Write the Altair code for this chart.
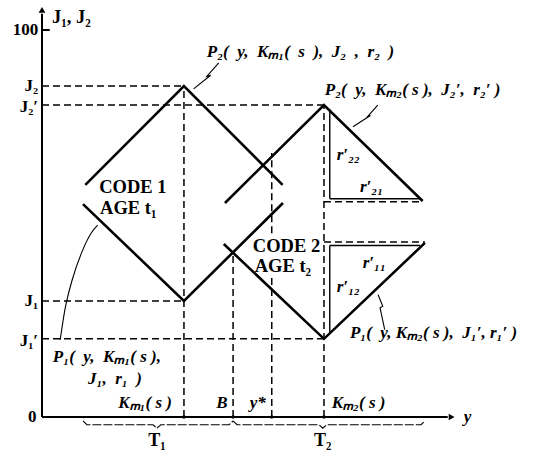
import altair as alt
import pandas as pd

# Levels on the vertical (J) axis
J2, J2P, J1, J1P = 85.5, 80.6, 30.0, 20.2
# Marked positions along the y axis
KM1, B, YSTAR, KM2 = 36.7, 49.4, 59.4, 72.9
X_END, Y_END = 105.9, 105.2

# Heavy zig-zag paths: (x list, y list)
paths_thick = {
    "p2_code1": ([11.2, KM1, 62.2], [60.0, J2, 60.0]),
    "p1_code1": ([10.6, KM1, 62.3], [55.0, J1, 55.3]),
    "p2_code2": ([47.3, KM2, 98.4], [55.3, J2P, 55.8]),
    "p1_code2": ([47.0, KM2, 99.0], [44.7, J1P, 45.0]),
}

# Thin solid sides of the two right triangles (r'21, r'22, r'11, r'12)
paths_thin = {
    "r21": ([74.4, 97.6], [56.4, 56.4]),
    "r22": ([74.4, 74.4], [56.4, 79.6]),
    "r11": ([74.4, 97.8], [44.3, 44.3]),
    "r12": ([74.4, 74.4], [44.3, 21.6]),
}

# Dashed guide lines (the y* line breaks around the CODE 2 label)
paths_dash = {
    "h_j2": ([0, KM1], [J2, J2]),
    "h_j2p": ([0, KM2], [J2P, J2P]),
    "h_j1": ([0, KM1], [J1, J1]),
    "h_j1p": ([0, KM2], [J1P, J1P]),
    "v_km1": ([KM1, KM1], [0, J2]),
    "v_b": ([B, B], [0, 42.4]),
    "v_ystar_lo": ([YSTAR, YSTAR], [0, 36.2]),
    "v_ystar_hi": ([YSTAR, YSTAR], [47.5, 68.2]),
    "v_km2": ([KM2, KM2], [0, J2P]),
    "h_tri_top": ([KM2, 98.4], [55.6, 55.6]),
    "h_tri_bot": ([KM2, 99.0], [45.2, 45.2]),
}

# Leader lines pointing from the labels to the curves
leaders_straight = {
    "lead_p2a": ([45.7, 42.6, 43.6, 39.2], [91.5, 88.0, 88.3, 84.8]),
    "lead_p2b": ([86.8, 84.0, 84.9, 80.4], [80.6, 77.4, 77.9, 75.0]),
    "lead_p1b": ([88.6, 87.4, 88.1, 86.9], [22.6, 28.2, 28.6, 31.6]),
}
leader_curve_x = [4.7, 5.9, 7.8, 10.3, 12.9, 14.4]
leader_curve_y = [19.9, 27.6, 35.4, 42.6, 47.8, 49.6]

# Axes
axes_paths = {
    "x_axis": ([0, X_END - 1.0], [0, 0]),
    "y_axis": ([0, 0], [0, Y_END - 1.0]),
    "tick100": ([0, 2.0], [100, 100]),
}

# Braces under the y axis: (start, tip, end)
braces = {"T1": (10.6, 29.7, B), "T2": (B, 72.6, 99.0)}


def to_frame(paths):
    rows = []
    for name, (xs_, ys_) in paths.items():
        for i, (x, y) in enumerate(zip(xs_, ys_)):
            rows.append({"seg": name, "i": i, "x": x, "y": y})
    return pd.DataFrame(rows)


def brace_frame():
    rows = []
    for name, (a, t, b) in braces.items():
        bx = [a, a + 1.0, t - 1.0, t, t + 1.0, b - 1.0, b]
        by = [-1.0, -2.0, -2.0, -2.9, -2.0, -2.0, -1.0]
        for i, (x, y) in enumerate(zip(bx, by)):
            rows.append({"seg": name, "i": i, "x": x, "y": y})
    return pd.DataFrame(rows)


xs = alt.Scale(domain=[0, 106], nice=False, zero=False)
ys = alt.Scale(domain=[0, 100], nice=False, zero=False)


def enc(chart, order=True):
    e = dict(
        x=alt.X("x:Q", scale=xs, axis=None),
        y=alt.Y("y:Q", scale=ys, axis=None),
    )
    if order:
        e["detail"] = "seg:N"
        e["order"] = "i:Q"
    return chart.encode(**e)


thick = enc(alt.Chart(to_frame(paths_thick)).mark_line(color="black", strokeWidth=2.6))
thin = enc(alt.Chart(to_frame(paths_thin)).mark_line(color="black", strokeWidth=1.4))
dash = enc(alt.Chart(to_frame(paths_dash)).mark_line(color="black", strokeWidth=1.5, strokeDash=[7, 4]))
lead = enc(alt.Chart(to_frame(leaders_straight)).mark_line(color="black", strokeWidth=1.1))
curve = enc(
    alt.Chart(to_frame({"lead_p1a": (leader_curve_x, leader_curve_y)})).mark_line(
        color="black", strokeWidth=1.1, interpolate="monotone"
    )
)
axes = enc(alt.Chart(to_frame(axes_paths)).mark_line(color="black", strokeWidth=2.0))
brace = enc(alt.Chart(brace_frame()).mark_line(color="black", strokeWidth=1.1, strokeDash=[9, 2]))

arrow_right = enc(
    alt.Chart(pd.DataFrame({"x": [X_END], "y": [0]})).mark_point(
        shape="triangle-right", filled=True, color="black", size=45, opacity=1
    ),
    order=False,
)
arrow_up = enc(
    alt.Chart(pd.DataFrame({"x": [0], "y": [Y_END]})).mark_point(
        shape="triangle-up", filled=True, color="black", size=45, opacity=1
    ),
    order=False,
)

dots = enc(
    alt.Chart(pd.DataFrame({"x": [KM1, B, YSTAR, KM2], "y": [0, 0, 0, 0]})).mark_point(
        filled=True, color="black", size=12, opacity=1
    ),
    order=False,
)

FONT = "Liberation Serif"
EN = "\u2002"  # en space, keeps the wide spacing of the formulas


def text_layer(df, align, italic, size=17):
    props = dict(font=FONT, fontSize=size, fontWeight="bold", align=align, baseline="middle")
    if italic:
        props["fontStyle"] = "italic"
    return enc(alt.Chart(df).mark_text(**props), order=False).encode(text="text:N")


# Axis value labels, right-aligned against the vertical axis
axis_labels = pd.DataFrame(
    {
        "x": [-1.0, -1.0, -1.0, -1.0, -1.0, -1.4],
        "y": [100, J2, J2P - 0.6, J1, J1P - 0.6, 0],
        "text": ["100", "J₂", "J₂′", "J₁", "J₁′", "0"],
    }
)

upright_left = pd.DataFrame(
    {
        "x": [2.6, 14.8, 54.5, 15.0, 55.0],
        "y": [103.4, 59.4, 44.3, 54.0, 39.0],
        "text": ["J₁, J₂", "CODE 1", "CODE 2", "AGE  t₁", "AGE t₂"],
    }
)
upright_center = pd.DataFrame(
    {"x": [29.7, 72.6], "y": [-6.3, -6.3], "text": ["T₁", "T₂"]}
)

italic_left = pd.DataFrame(
    {
        "x": [42.6, 73.1, 79.6, 2.8, 11.9, 74.9, 76.2, 82.2, 82.9, 76.2],
        "y": [94.3, 84.5, 21.7, 15.5, 9.8, 3.6, 67.7, 59.4, 39.8, 33.6],
        "text": [
            f"P₂({EN}y,{EN}Kₘ₁({EN}s{EN}),{EN}J₂{EN},{EN}r₂{EN})",
            f"P₂({EN}y,{EN}Kₘ₂( s ),{EN}J₂′,{EN}r₂′ )",
            f"P₁({EN}y, Kₘ₂( s ),{EN}J₁′, r₁′ )",
            f"P₁({EN}y,{EN}Kₘ₁( s ),",
            f"J₁,{EN}r₁{EN})",
            "Kₘ₂( s )",
            "r′₂₂",
            "r′₂₁",
            "r′₁₁",
            "r′₁₂",
        ],
    }
)
italic_right = pd.DataFrame({"x": [33.6], "y": [3.6], "text": ["Kₘ₁( s )"]})
italic_center = pd.DataFrame(
    {"x": [46.5, 55.8, 110.0], "y": [3.6, 3.6, 0.0], "text": ["B", "y*", "y"]}
)

chart = (
    alt.layer(
        dash, thin, thick, lead, curve, axes, brace, arrow_right, arrow_up, dots,
        text_layer(axis_labels, "right", False),
        text_layer(upright_left, "left", False, 18.5),
        text_layer(upright_center, "center", False, 18),
        text_layer(italic_left, "left", True),
        text_layer(italic_right, "right", True),
        text_layer(italic_center, "center", True),
    )
    .properties(
        width=410,
        height=387,
        autosize=alt.AutoSizeParams(type="none"),
        padding={"left": 42, "top": 30, "right": 81, "bottom": 37},
        background="white",
    )
    .configure_view(stroke=None)
)

chart.save("out.html", embed_options={"renderer": "svg", "actions": False})
